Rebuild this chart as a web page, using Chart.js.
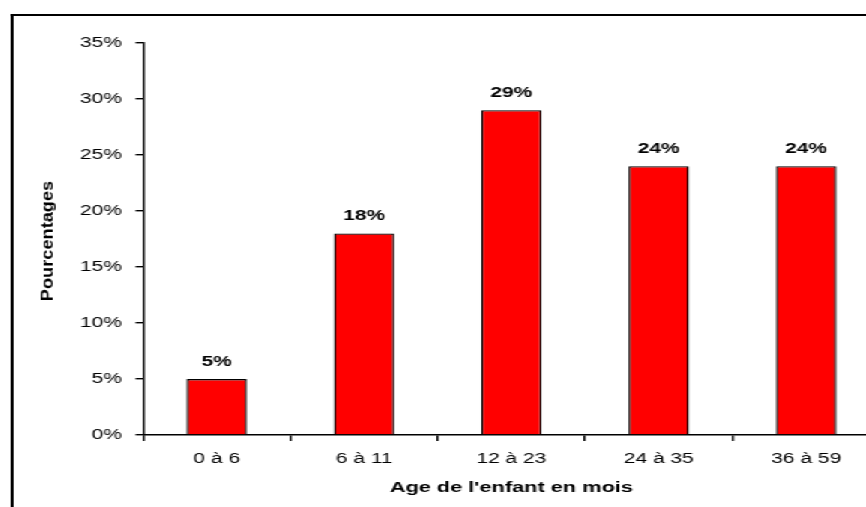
<!DOCTYPE html>
<html>
<head>
<meta charset="utf-8">
<script src="https://cdn.jsdelivr.net/npm/chart.js@4.4.1/dist/chart.umd.min.js"></script>
<style>
  html, body { margin: 0; padding: 0; background: #fff; overflow: hidden; }
  /* the original picture is stretched sideways, so the whole chart is too */
  #wrap { position: absolute; left: 0; top: 0; width: 600px; height: 507px; transform: scaleX(1.5); transform-origin: 0 0; }
  #frame { position: absolute; left: 7px; top: 14px; width: 1000px; height: 1000px; border-left: 2px solid #000; border-top: 2px solid #000; }
  #myChart { position: absolute; left: 0; top: 0; }
</style>
</head>
<body>
<div id="wrap">
  <div id="frame"></div>
  <canvas id="myChart" width="600" height="507"></canvas>
</div>
<script>
// donnees
const categories = ['0 à 6', '6 à 11', '12 à 23', '24 à 35', '36 à 59'];
const pourcentages = [5, 18, 29, 24, 24];
const yMax = 35;
const yStep = 5;
const xTitle = "Age de l'enfant en mois";
const yTitle = 'Pourcentages';

// etiquettes au-dessus des barres
const valeursPlugin = {
  id: 'valeurs',
  afterDatasetsDraw(chart) {
    const ctx = chart.ctx;
    const meta = chart.getDatasetMeta(0);
    ctx.save();
    ctx.font = 'bold 14px "Liberation Sans", Arial, sans-serif';
    ctx.fillStyle = '#000';
    ctx.textAlign = 'center';
    ctx.textBaseline = 'middle';
    meta.data.forEach((bar, i) => {
      ctx.fillText(pourcentages[i] + '%', bar.x, bar.y - 17);
    });
    ctx.restore();
  }
};

// titre vertical (plus etroit et plus long que le texte normal)
const titreYPlugin = {
  id: 'titreY',
  afterDraw(chart) {
    const ctx = chart.ctx;
    const area = chart.chartArea;
    ctx.save();
    ctx.translate(32, (area.top + area.bottom) / 2 + 2);
    ctx.scale(0.72, 1.3);
    ctx.rotate(-Math.PI / 2);
    ctx.font = 'bold 14px "Liberation Sans", Arial, sans-serif';
    ctx.fillStyle = '#000';
    ctx.textAlign = 'center';
    ctx.textBaseline = 'middle';
    ctx.fillText(yTitle, 0, 0);
    ctx.restore();
  }
};

const ctx = document.getElementById('myChart');

new Chart(ctx, {
  type: 'bar',
  data: {
    labels: categories,
    datasets: [{
      data: pourcentages,
      backgroundColor: '#ff0000',
      borderColor: '#000',
      borderWidth: 1.4,
      barPercentage: 0.41,
      categoryPercentage: 1
    }]
  },
  options: {
    responsive: false,
    animation: false,
    devicePixelRatio: 1,
    layout: { padding: { left: 0, top: 43, right: 13.3, bottom: 0 } },
    plugins: {
      legend: { display: false },
      tooltip: { enabled: false }
    },
    scales: {
      x: {
        afterFit: (scale) => { scale.height = 72; },
        grid: { drawOnChartArea: false, drawTicks: true, tickLength: 6, color: '#000', lineWidth: 1.4, offset: true },
        border: { color: '#000', width: 1.5 },
        ticks: {
          color: '#000',
          padding: 10,
          font: { family: '"Liberation Sans", Arial, sans-serif', size: 14 }
        },
        title: {
          display: true,
          text: xTitle,
          color: '#000',
          padding: { top: 0, bottom: 10 },
          font: { family: '"Liberation Sans", Arial, sans-serif', size: 14.5, weight: 'bold' }
        }
      },
      y: {
        min: 0,
        max: yMax,
        afterFit: (scale) => { scale.width = 95.3; },
        grid: { drawOnChartArea: false, drawTicks: true, tickLength: 5, color: '#000', lineWidth: 1.4 },
        border: { color: '#000', width: 1.4 },
        ticks: {
          stepSize: yStep,
          color: '#000',
          padding: 9,
          font: { family: '"Liberation Sans", Arial, sans-serif', size: 14 },
          callback: (v) => v + '%'
        }
      }
    }
  },
  plugins: [valeursPlugin, titreYPlugin]
});
</script>
</body>
</html>
